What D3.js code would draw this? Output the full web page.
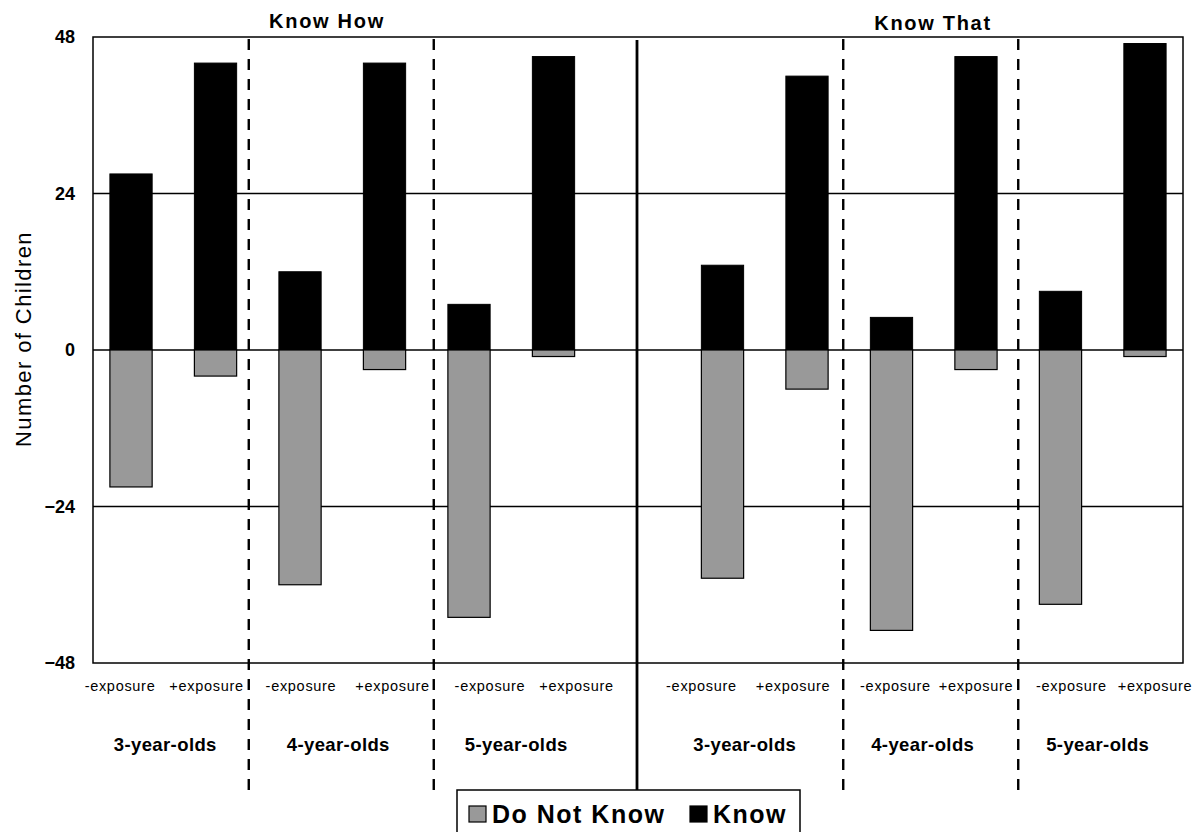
<!DOCTYPE html>
<html>
<head>
<meta charset="utf-8">
<script src="https://cdn.jsdelivr.net/npm/d3@7/dist/d3.min.js"></script>
<style>
  html, body { margin: 0; padding: 0; background: #fff; }
  svg { display: block; font-family: "Liberation Sans", Arial, sans-serif; }
</style>
</head>
<body>
<svg id="chart" width="1198" height="832"></svg>
<script>
// ---- data ----
const panels = ["Know How", "Know That"];
const ageGroups = ["3-year-olds", "4-year-olds", "5-year-olds"];
const conditions = ["-exposure", "+exposure"];
const knowHowKnow = [27, 44, 12, 44, 7, 45];
const knowHowDoNotKnow = [21, 4, 36, 3, 41, 1];
const knowThatKnow = [13, 42, 5, 45, 9, 47];
const knowThatDoNotKnow = [35, 6, 43, 3, 39, 1];
const yTicks = [48, 24, 0, -24, -48];
const seriesNames = ["Do Not Know", "Know"];
const seriesColors = ["#999999", "#000000"];

// ---- build slots (13: 6 + gap + 6) ----
const slots = [];
const bars = [];
panels.forEach((p, pi) => {
  const kn = pi === 0 ? knowHowKnow : knowThatKnow;
  const dn = pi === 0 ? knowHowDoNotKnow : knowThatDoNotKnow;
  ageGroups.forEach((g, gi) => {
    conditions.forEach((c, ci) => {
      const key = p + "|" + g + "|" + c;
      slots.push(key);
      const i = gi * 2 + ci;
      bars.push({key, panel: p, group: g, cond: c, know: kn[i], dnk: dn[i]});
    });
  });
  if (pi === 0) slots.push("gap");
});

const svg = d3.select("#chart");
const L = 93, R = 1183, T = 37, B = 663;

const x = d3.scaleBand().domain(slots).range([L, R]).paddingInner(0.5).paddingOuter(0.2);
const y = d3.scaleLinear().domain([-48, 48]).range([B, T]);
const step = x.step();
const slotStart = k => x(k) - x.paddingInner() * step / 2;

// gridlines
svg.append("g").selectAll("line").data(yTicks.filter(d => d !== 48 && d !== -48)).join("line")
  .attr("x1", L).attr("x2", R).attr("y1", d => y(d)).attr("y2", d => y(d))
  .attr("stroke", "#000").attr("stroke-width", 1.4);

// bars
const gb = svg.append("g");
gb.selectAll("rect.know").data(bars).join("rect").attr("class", "know")
  .attr("x", d => x(d.key)).attr("width", x.bandwidth())
  .attr("y", d => y(d.know)).attr("height", d => y(0) - y(d.know))
  .attr("fill", seriesColors[1]).attr("stroke", "#000").attr("stroke-width", 1);
gb.selectAll("rect.dnk").data(bars).join("rect").attr("class", "dnk")
  .attr("x", d => x(d.key)).attr("width", x.bandwidth())
  .attr("y", y(0)).attr("height", d => y(-d.dnk) - y(0))
  .attr("fill", seriesColors[0]).attr("stroke", "#000").attr("stroke-width", 1.2);

// frame
svg.append("rect").attr("x", L).attr("y", T).attr("width", R - L).attr("height", B - T)
  .attr("fill", "none").attr("stroke", "#000").attr("stroke-width", 1.5);

// y axis labels
const yAxis = d3.axisLeft(y).tickValues(yTicks).tickSize(0).tickPadding(18);
const ya = svg.append("g").attr("transform", `translate(${L},0)`).call(yAxis);
ya.select(".domain").remove();
ya.selectAll("text").attr("font-size", 18).attr("font-weight", "bold")
  .attr("font-family", "Liberation Sans, Arial, sans-serif").attr("fill", "#000");

// y title
svg.append("text").attr("transform", `translate(31,${(T + B) / 2 - 11}) rotate(-90)`)
  .attr("text-anchor", "middle").attr("font-size", 22).attr("letter-spacing", 1.4).text("Number of Children");

// dividers
const lineBottom = 791;
const dashKeys = [];
panels.forEach(p => { dashKeys.push(p + "|" + ageGroups[1] + "|" + conditions[0]); dashKeys.push(p + "|" + ageGroups[2] + "|" + conditions[0]); });
const dashNudge = [-9, 7, -6, 0];
svg.append("g").selectAll("line").data(dashKeys).join("line")
  .attr("x1", (d, i) => slotStart(d) + dashNudge[i]).attr("x2", (d, i) => slotStart(d) + dashNudge[i])
  .attr("y1", T + 2).attr("y2", lineBottom)
  .attr("stroke", "#000").attr("stroke-width", 2.4).attr("stroke-dasharray", "11,9");
svg.append("line").attr("x1", x("gap") + x.bandwidth() / 2 - 1).attr("x2", x("gap") + x.bandwidth() / 2 - 1)
  .attr("y1", T + 3).attr("y2", lineBottom).attr("stroke", "#000").attr("stroke-width", 2.8);

// x labels: conditions (label placement offsets relative to bar centres)
const condNudge = [-11, -9, 1, 8, 21, 23, -21, -14, 4, 0, 11, 10];
svg.append("g").selectAll("text").data(bars).join("text")
  .attr("x", (d, i) => x(d.key) + x.bandwidth() / 2 + condNudge[i]).attr("y", 691)
  .attr("text-anchor", "middle").attr("font-size", 14.5).attr("letter-spacing", 0.7)
  .text(d => d.cond);

// group labels
const groupData = [];
panels.forEach(p => ageGroups.forEach(g => {
  const k1 = p + "|" + g + "|" + conditions[0], k2 = p + "|" + g + "|" + conditions[1];
  groupData.push({g, cx: (x(k1) + x(k2) + x.bandwidth()) / 2});
}));
const groupNudge = [-8, -4, 5, -20, -11, -5];
svg.append("g").selectAll("text").data(groupData).join("text")
  .attr("x", (d, i) => d.cx + groupNudge[i]).attr("y", 751)
  .attr("text-anchor", "middle").attr("font-size", 18.5).attr("font-weight", "bold").attr("letter-spacing", 0.4)
  .text(d => d.g);

// panel titles
const titleX = [327, 933];
svg.append("g").selectAll("text").data(panels).join("text")
  .attr("x", (d, i) => titleX[i]).attr("y", (d, i) => 28 + i * 2)
  .attr("text-anchor", "middle").attr("font-size", 20).attr("font-weight", "bold").attr("letter-spacing", 1.7)
  .text(d => d);

// legend
const lg = svg.append("g");
lg.append("rect").attr("x", 457).attr("y", 790).attr("width", 343).attr("height", 50)
  .attr("fill", "#fff").attr("stroke", "#000").attr("stroke-width", 1.5);
const legendItems = [{name: seriesNames[0], color: seriesColors[0], x: 469}, {name: seriesNames[1], color: seriesColors[1], x: 690}];
legendItems.forEach(it => {
  lg.append("rect").attr("x", it.x).attr("y", 806).attr("width", 17).attr("height", 16)
    .attr("fill", it.color).attr("stroke", "#000").attr("stroke-width", 1.2);
  lg.append("text").attr("x", it.x + 23).attr("y", 823).attr("font-size", 25).attr("font-weight", "bold")
    .attr("letter-spacing", 1.5).text(it.name);
});
</script>
</body>
</html>
